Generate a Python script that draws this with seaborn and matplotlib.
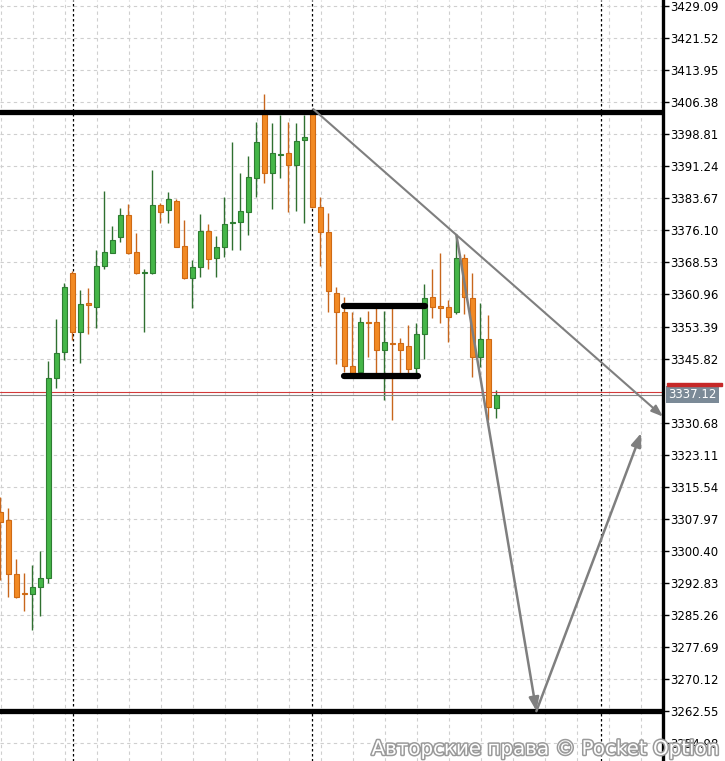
import matplotlib
matplotlib.use("Agg")
import matplotlib.pyplot as plt
import matplotlib.patheffects as pe
import matplotlib.transforms as mtransforms
from matplotlib.patches import Rectangle
import numpy as np
import pandas as pd
import seaborn as sns

# candle data (one candle per bar slot)
opens = [3309.66, 3307.70, 3294.94, 3290.53, 3290.15, 3291.94, 3294.07, 3341.16, 3347.30, 3365.96,
         3352.03, 3359.02, 3358.07, 3367.76, 3370.83, 3374.47, 3379.73, 3370.92, 3366.00, 3366.10,
         3382.02, 3380.91, 3383.04, 3372.41, 3364.92, 3367.38, 3375.95, 3369.65, 3372.10, 3377.80,
         3378.15, 3380.51, 3388.54, 3403.51, 3389.58, 3393.90, 3394.30, 3391.47, 3397.37, 3403.51,
         3381.55, 3375.65, 3361.38, 3356.75, 3344.07, 3342.72, 3354.30, 3354.39, 3347.85, 3349.57,
         3349.43, 3348.79, 3343.53, 3351.63, 3360.29, 3357.95, 3357.93, 3356.89, 3369.50, 3360.06,
         3346.12, 3350.44, 3334.08]
highs = [3313.20, 3310.53, 3298.49, 3295.18, 3297.07, 3300.37, 3345.25, 3355.17, 3363.60, 3366.40,
         3362.02, 3362.42, 3371.46, 3385.40, 3377.13, 3381.31, 3382.33, 3375.41, 3366.91, 3390.36,
         3382.63, 3385.16, 3383.51, 3378.55, 3369.10, 3379.97, 3377.61, 3374.84, 3384.05, 3397.04,
         3389.58, 3393.66, 3401.76, 3408.31, 3401.53, 3403.35, 3401.69, 3401.53, 3403.35, 3404.53,
         3383.91, 3380.13, 3362.65, 3360.44, 3356.89, 3355.57, 3357.06, 3358.07, 3357.13, 3357.70,
         3350.61, 3353.75, 3354.15, 3363.43, 3366.91, 3370.69, 3359.66, 3375.01, 3370.45, 3365.96,
         3359.02, 3356.11, 3338.40]
lows = [3293.53, 3289.58, 3289.30, 3286.27, 3281.72, 3285.09, 3292.82, 3338.80, 3345.49, 3350.21,
        3344.85, 3351.55, 3352.97, 3366.91, 3370.69, 3373.43, 3370.60, 3365.73, 3352.10, 3365.73,
        3377.91, 3377.91, 3372.10, 3364.55, 3357.70, 3365.16, 3366.91, 3365.16, 3369.88, 3371.46,
        3371.46, 3375.01, 3384.05, 3387.36, 3381.08, 3388.54, 3380.51, 3380.75, 3377.77, 3381.38,
        3367.69, 3356.89, 3344.47, 3342.72, 3341.94, 3342.34, 3346.12, 3342.49, 3336.04, 3331.31,
        3341.94, 3342.34, 3341.94, 3345.65, 3355.33, 3354.15, 3349.81, 3356.28, 3356.28, 3341.40,
        3343.90, 3331.31, 3331.72]
closes = [3307.30, 3294.94, 3289.58, 3290.15, 3291.94, 3294.07, 3341.16, 3347.07, 3362.65, 3352.03,
          3358.64, 3358.41, 3367.69, 3370.92, 3373.83, 3379.73, 3370.83, 3365.96, 3366.15, 3382.02,
          3380.37, 3383.44, 3372.24, 3364.92, 3367.38, 3375.95, 3369.27, 3372.10, 3377.61, 3377.91,
          3380.68, 3388.63, 3396.97, 3389.72, 3394.30, 3394.07, 3391.47, 3397.28, 3398.08, 3381.55,
          3375.65, 3361.78, 3356.75, 3344.07, 3342.34, 3354.39, 3354.15, 3347.85, 3349.81, 3349.26,
          3347.85, 3343.29, 3351.55, 3360.06, 3357.93, 3357.84, 3355.71, 3369.50, 3360.29, 3346.12,
          3350.44, 3334.31, 3337.12]

price_ticks = [3429.09, 3421.52, 3413.95, 3406.38, 3398.81, 3391.24, 3383.67, 3376.10, 3368.53,
               3360.96, 3353.39, 3345.82, 3338.25, 3330.68, 3323.11, 3315.54, 3307.97, 3300.40,
               3292.83, 3285.26, 3277.69, 3270.12, 3262.55, 3254.98]
# 3338.25 is hidden behind the price tag in the original, keep it out of the labels
shown_ticks = [t for t in price_ticks if t != 3338.25]

last_price = 3337.12
ask_price = 3337.90
resistance = 3403.94
support = 3262.55
box_top, box_bottom = 3358.24, 3341.70
box_top_x = (42.9, 53.1)
box_bottom_x = (42.9, 52.25)
day_breaks = [9.1, 39.0, 75.1]

trend_line = [(39.1, 3404.76), (82.84, 3332.09)]
drop_line = [(57.0, 3375.01), (67.0, 3262.55)]
rebound_line = [(67.0, 3262.55), (80.1, 3328.24)]

df = pd.DataFrame({"open": opens, "high": highs, "low": lows, "close": closes})
df["idx"] = np.arange(len(df))
df["up"] = df["close"] >= df["open"]

sns.set_style("white")

fig = plt.figure(figsize=(7.25, 7.61), dpi=100)
ax = fig.add_axes([0, 0, 663 / 725, 1])

# grid
ax.set_xticks(np.arange(0.125, 83, 4))
ax.set_yticks(shown_ticks)
ax.grid(True, color="#cfcfcf", linestyle=(0, (3, 3)), linewidth=0.8, zorder=0)
for x in day_breaks:
    ax.axvline(x, color="black", linestyle=(0, (2, 2)), linewidth=0.9, zorder=1)

# candles
green_fill, green_edge = "#45b648", "#2e7d32"
orange_fill, orange_edge = "#f28a24", "#cf6a14"
wick_cols = np.where(df["up"], "#2f7030", "#c8661c")
ax.vlines(df["idx"], df["low"], df["high"], colors=wick_cols, linewidth=1.0, zorder=2)
body_h = (df["close"] - df["open"]).abs().clip(lower=0.35)
body_b = df[["open", "close"]].min(axis=1)
ax.bar(df["idx"], body_h, bottom=body_b, width=0.62,
       color=np.where(df["up"], green_fill, orange_fill),
       edgecolor=np.where(df["up"], green_edge, orange_edge), linewidth=0.8, zorder=3)

# levels
ax.axhline(resistance, color="black", linewidth=3.8, zorder=4)
ax.axhline(support, color="black", linewidth=3.8, zorder=4)
ax.plot(box_top_x, [box_top, box_top], color="black", linewidth=4.5, solid_capstyle="round", zorder=4)
ax.plot(box_bottom_x, [box_bottom, box_bottom], color="black", linewidth=4.5, solid_capstyle="round", zorder=4)
ax.axhline(ask_price, color="#d23a3a", linewidth=0.8, zorder=2)
ax.axhline(last_price, color="#8a8a8a", linewidth=0.8, zorder=2)

# drawn arrows
ax.annotate("", xy=trend_line[1], xytext=trend_line[0],
            arrowprops=dict(arrowstyle="-|>,head_length=0.7,head_width=0.25", color="#7f7f7f",
                            lw=1.5, shrinkA=0, shrinkB=0), zorder=5)
for seg in (drop_line, rebound_line):
    ax.annotate("", xy=seg[1], xytext=seg[0],
                arrowprops=dict(arrowstyle="-|>,head_length=0.8,head_width=0.3", color="#7f7f7f",
                                lw=1.8, shrinkA=0, shrinkB=0), zorder=5)

ax.set_xlim(-0.05, 82.825)
ax.set_ylim(3250.77, 3430.51)

# axes look
for s in ["left", "top", "bottom"]:
    ax.spines[s].set_visible(False)
ax.spines["right"].set_linewidth(2.4)
ax.spines["right"].set_color("black")
ax.yaxis.tick_right()
ax.yaxis.set_major_formatter(matplotlib.ticker.FormatStrFormatter("%.2f"))
ax.tick_params(axis="y", length=4, width=1, pad=1, labelsize=8.5, colors="black")
ax.tick_params(axis="x", length=0, labelbottom=False)

# current price tag
trans = mtransforms.blended_transform_factory(ax.transAxes, ax.transData)
ax.text(1.008, last_price + 0.2, "3337.12", transform=trans, ha="left", va="center",
        color="white", fontsize=8.5, clip_on=False,
        bbox=dict(boxstyle="square,pad=0.2", fc="#7b8a97", ec="none"))
fig.patches.append(Rectangle((667 / 725, 1 - 386 / 761), 55 / 725, 3 / 761,
                             transform=fig.transFigure, color="#c62828"))

# watermark
fig.text(0.992, 0.003, "Авторские права © Pocket Option", ha="right", va="bottom",
         fontsize=14.3, color="white",
         path_effects=[pe.withStroke(linewidth=2.2, foreground="#9a9a9a")])

fig.savefig("out.png", dpi=100)
